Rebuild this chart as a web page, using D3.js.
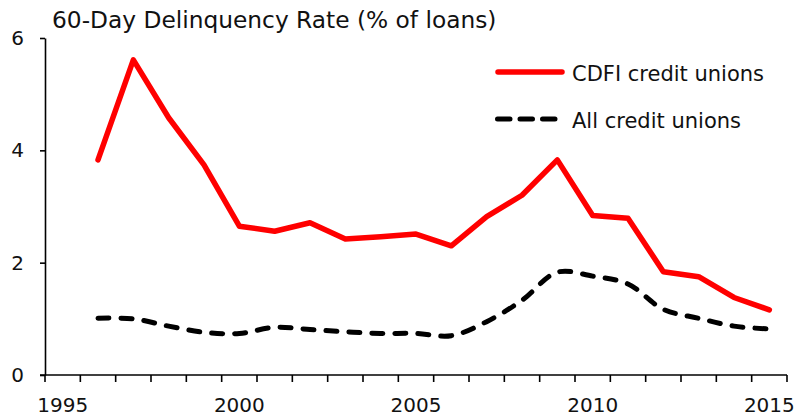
<!DOCTYPE html>
<html>
<head>
<meta charset="utf-8">
<script src="https://cdn.jsdelivr.net/npm/d3@7"></script>
<style>
  html, body { margin: 0; padding: 0; background: #fff; }
  svg { display: block; font-family: "DejaVu Sans", Verdana, sans-serif; }
</style>
</head>
<body>
<svg id="chart" width="799" height="418"></svg>
<script>
// Category years on the x axis (labels every five years)
const years = d3.range(1995, 2016);
const tickYears = [1995, 2000, 2005, 2010, 2015];
const yTicks = [0, 2, 4, 6];

// 60-day delinquency rate, % of loans
const dataYears = d3.range(1996, 2016);
const cdfi = [3.83, 5.61, 4.58, 3.74, 2.65, 2.56, 2.71, 2.42, 2.46, 2.51,
              2.30, 2.82, 3.20, 3.83, 2.84, 2.79, 1.84, 1.75, 1.38, 1.16];
const allCU = [1.01, 1.00, 0.87, 0.76, 0.74, 0.85, 0.81, 0.77, 0.74, 0.74,
               0.70, 0.95, 1.33, 1.83, 1.76, 1.62, 1.17, 1.01, 0.87, 0.82];

const seriesNames = ["CDFI credit unions", "All credit unions"];

const svg = d3.select("#chart");
const plotLeft = 45, plotRight = 787, plotTop = 38, plotBottom = 375;

const x = d3.scaleBand().domain(years).range([plotLeft, plotRight]).padding(0);
const y = d3.scaleLinear().domain([0, 6]).range([plotBottom, plotTop]);
const cx = yr => x(yr) + x.bandwidth() / 2;

// Title
svg.append("text")
  .attr("x", 52).attr("y", 28)
  .attr("font-size", 23.3).attr("fill", "#111")
  .text("60-Day Delinquency Rate (% of loans)");

// Y axis
const yAxis = svg.append("g")
  .attr("transform", `translate(${plotLeft},0)`)
  .call(d3.axisLeft(y).tickValues(yTicks).tickFormat(d3.format("d")).tickSize(5).tickSizeOuter(0).tickPadding(16));
yAxis.select(".domain").attr("stroke", "#000").attr("stroke-width", 1.6);
yAxis.selectAll(".tick line").attr("stroke", "#000").attr("stroke-width", 1.6);
yAxis.selectAll(".tick text").attr("font-size", 20).attr("fill", "#111")
  .attr("font-family", "DejaVu Sans, Verdana, sans-serif");

// X axis: ticks on category boundaries, labels centred in the band
const xAxis = svg.append("g").attr("transform", `translate(0,${plotBottom})`);
xAxis.append("line")
  .attr("x1", plotLeft - 5).attr("x2", plotRight)
  .attr("stroke", "#000").attr("stroke-width", 1.6);
const boundaries = years.map(d => x(d)).concat([plotRight]);
xAxis.selectAll("line.tk").data(boundaries).join("line")
  .attr("class", "tk")
  .attr("x1", d => d).attr("x2", d => d)
  .attr("y1", 0).attr("y2", 7)
  .attr("stroke", "#000").attr("stroke-width", 1.6);
xAxis.selectAll("text").data(tickYears).join("text")
  .attr("x", d => cx(d)).attr("y", 37)
  .attr("text-anchor", "middle")
  .attr("font-size", 20).attr("fill", "#111")
  .text(d => d);

// Lines
const lineStraight = d3.line().x((d, i) => cx(dataYears[i])).y(d => y(d));
const lineSmooth = d3.line().x((d, i) => cx(dataYears[i])).y(d => y(d)).curve(d3.curveCatmullRom.alpha(0.5));

svg.append("path").datum(allCU)
  .attr("d", lineSmooth)
  .attr("fill", "none").attr("stroke", "#000")
  .attr("stroke-width", 5).attr("stroke-linecap", "round")
  .attr("stroke-dasharray", "11,12");

svg.append("path").datum(cdfi)
  .attr("d", lineStraight)
  .attr("fill", "none").attr("stroke", "#ff0000")
  .attr("stroke-width", 5.5).attr("stroke-linejoin", "round").attr("stroke-linecap", "round");

// Legend
const legend = svg.append("g");
const legendRows = [
  { name: seriesNames[0], y: 72, color: "#ff0000", dash: null, x1: 498, x2: 562 },
  { name: seriesNames[1], y: 119, color: "#000", dash: "12.5,10", x1: 497.5, x2: 557 }
];
legendRows.forEach(r => {
  legend.append("line")
    .attr("x1", r.x1).attr("x2", r.x2)
    .attr("y1", r.y).attr("y2", r.y)
    .attr("stroke", r.color).attr("stroke-width", r.dash ? 5 : 5.5)
    .attr("stroke-linecap", "round")
    .attr("stroke-dasharray", r.dash);
  legend.append("text")
    .attr("x", 572).attr("y", r.y + 9)
    .attr("font-size", 21).attr("fill", "#111")
    .text(r.name);
});
</script>
</body>
</html>
